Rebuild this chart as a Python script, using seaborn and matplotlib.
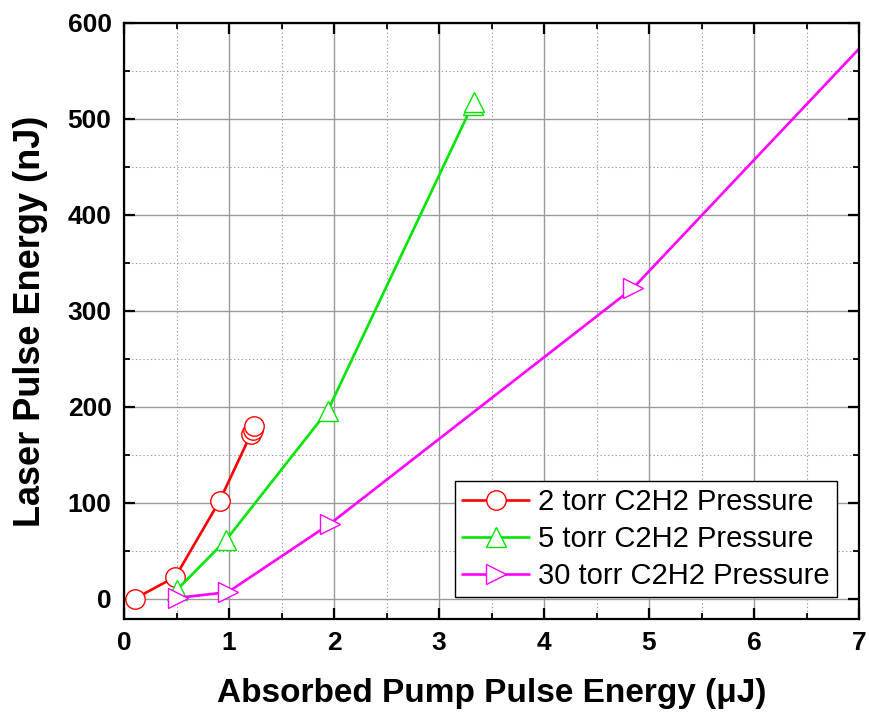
import matplotlib
matplotlib.use("Agg")
import matplotlib.pyplot as plt
from matplotlib.ticker import MultipleLocator
import seaborn as sns
import pandas as pd

# Absorbed pump energy (uJ) vs. laser output energy (nJ) for three C2H2 pressures
x_2torr = [0.10, 0.49, 0.91, 1.21, 1.23, 1.24]
y_2torr = [0.0, 23.0, 102.0, 172.0, 176.0, 180.0]

x_5torr = [0.50, 0.97, 1.94, 3.32, 3.33]
y_5torr = [9.0, 61.0, 196.0, 515.0, 518.0]

x_30torr = [0.51, 0.99, 1.96, 4.85, 7.50]
y_30torr = [1.0, 7.0, 78.0, 324.0, 631.0]

labels = ["2 torr C2H2 Pressure", "5 torr C2H2 Pressure", "30 torr C2H2 Pressure"]
colors = ["#FF0000", "#00E600", "#FF00FF"]
markers = ["o", "^", ">"]

x_ticks = [0, 1, 2, 3, 4, 5, 6, 7]
y_ticks = [0, 100, 200, 300, 400, 500, 600]

sns.set_theme(style="white")
plt.rcParams["font.family"] = ["Liberation Sans", "DejaVu Sans"]
plt.rcParams["text.color"] = "black"
plt.rcParams["axes.labelcolor"] = "black"
plt.rcParams["xtick.color"] = "black"
plt.rcParams["ytick.color"] = "black"

fig = plt.figure(figsize=(8.69, 7.18), dpi=100)
ax = fig.add_axes([0.1427, 0.1379, 0.8458, 0.8301])

series = [(x_2torr, y_2torr), (x_5torr, y_5torr), (x_30torr, y_30torr)]
for (xs, ys), lab, col, mk in zip(series, labels, colors, markers):
    df = pd.DataFrame({"x": xs, "y": ys})
    sns.lineplot(data=df, x="x", y="y", ax=ax, sort=False, estimator=None,
                 color=col, marker=mk, markersize=14, markerfacecolor="white",
                 markeredgecolor=col, markeredgewidth=1.0, linewidth=1.9,
                 label=lab)

ax.set_xlim(0, 7)
ax.set_ylim(-21, 600)
ax.set_xticks(x_ticks)
ax.set_yticks(y_ticks)
ax.xaxis.set_minor_locator(MultipleLocator(0.5))
ax.yaxis.set_minor_locator(MultipleLocator(50))

ax.grid(True, which="major", color="#9a9a9a", linestyle="-", linewidth=1.0)
ax.grid(True, which="minor", color="#9a9a9a", linestyle=(0, (1.2, 2.2)), linewidth=0.8)
ax.set_axisbelow(True)

for sp in ax.spines.values():
    sp.set_visible(True)
    sp.set_color("black")
    sp.set_linewidth(1.6)

ax.tick_params(which="both", direction="in", top=True, right=True, bottom=True, left=True,
               color="black", labelcolor="black")
ax.tick_params(which="major", length=8, width=1.6, labelsize=19)
ax.tick_params(axis="y", which="major", pad=9)
ax.tick_params(axis="x", which="major", pad=9)
ax.tick_params(which="minor", length=4, width=1.3)
for t in ax.get_xticklabels() + ax.get_yticklabels():
    t.set_fontweight("bold")

ax.set_xlabel("Absorbed Pump Pulse Energy (\u03bcJ)", fontsize=24, fontweight="bold", labelpad=16)
ax.set_ylabel("Laser Pulse Energy (nJ)", fontsize=26, fontweight="bold", labelpad=14)

leg = ax.legend(loc="lower right", fontsize=21, frameon=True, fancybox=False,
                edgecolor="black", framealpha=1.0, handlelength=2.3,
                borderaxespad=0.75, labelspacing=0.3, handletextpad=0.3,
                borderpad=0.25)
leg.get_frame().set_linewidth(1.0)
for txt in leg.get_texts():
    txt.set_color("black")

fig.savefig("out.png", dpi=100)
